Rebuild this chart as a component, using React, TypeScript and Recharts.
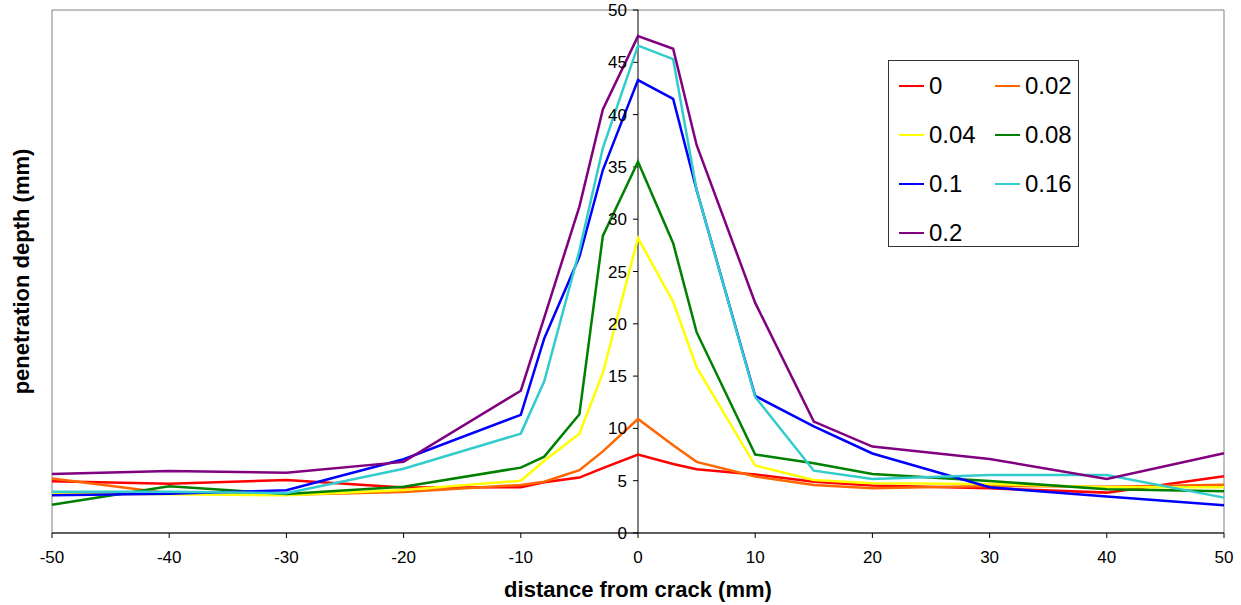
import { LineChart, Line, XAxis, YAxis, Legend, ReferenceLine, ReferenceArea } from 'recharts';

// distance from crack (mm)
const distances = [-50, -40, -30, -20, -10, -8, -5, -3, 0, 3, 5, 10, 15, 20, 30, 40, 50];

// penetration depth (mm) per crack width
const depth0 = [4.95, 4.72, 5.07, 4.34, 4.37, 4.85, 5.3, 6.2, 7.5, 6.6, 6.1, 5.6, 4.9, 4.53, 4.27, 3.86, 5.42];
const depth002 = [5.2, 3.8, 3.65, 3.92, 4.6, 4.9, 6.0, 7.8, 10.9, 8.4, 6.8, 5.4, 4.6, 4.28, 4.5, 4.43, 4.62];
const depth004 = [3.8, 3.7, 3.6, 4.1, 5.0, 6.9, 9.5, 15.3, 28.2, 22.1, 15.85, 6.45, 5.07, 4.75, 4.69, 4.37, 4.37];
const depth008 = [2.7, 4.47, 3.73, 4.43, 6.25, 7.3, 11.35, 28.4, 35.5, 27.7, 19.2, 7.5, 6.67, 5.65, 4.97, 4.18, 3.99];
const depth01 = [3.6, 3.76, 4.08, 7.05, 11.3, 18.6, 26.4, 34.7, 43.3, 41.5, 32.8, 13.1, 10.2, 7.6, 4.37, 3.48, 2.65];
const depth016 = [3.95, 3.95, 3.8, 6.15, 9.5, 14.5, 27.0, 36.8, 46.6, 45.3, 32.8, 13.0, 5.96, 5.17, 5.55, 5.55, 3.38];
const depth02 = [5.65, 5.93, 5.77, 6.8, 13.6, 20.6, 31.2, 40.5, 47.5, 46.3, 37.1, 22.0, 10.65, 8.26, 7.08, 5.17, 7.63];

const seriesNames = ['0', '0.02', '0.04', '0.08', '0.1', '0.16', '0.2'];
const seriesValues = [depth0, depth002, depth004, depth008, depth01, depth016, depth02];
const seriesColors = ['#FF0000', '#FF6600', '#FFFF00', '#008000', '#0000FF', '#33CCCC', '#800080'];

const xTicks = [-50, -40, -30, -20, -10, 0, 10, 20, 30, 40, 50];
const yTicks = [0, 5, 10, 15, 20, 25, 30, 35, 40, 45, 50];

const data = distances.map((x, i) => {
    const row: Record<string, number> = { x };
    seriesNames.forEach((name, s) => {
        row[name] = seriesValues[s][i];
    });
    return row;
});

const FONT = "Arial, 'Liberation Sans', sans-serif";

function LegendBox({ payload }: { payload?: any[] }) {
    const items = payload || [];
    return (
        <div style={{ position: 'relative', width: '100%', height: '100%', fontFamily: FONT, fontSize: 24, color: '#000' }}>
            {items.map((item, i) => {
                const col = i % 2;
                const row = Math.floor(i / 2);
                return (
                    <div
                        key={item.value}
                        style={{
                            position: 'absolute',
                            left: col === 0 ? 10 : 106,
                            top: 25 + row * 49 - 14,
                            height: 28,
                            display: 'flex',
                            alignItems: 'center',
                        }}
                    >
                        <span style={{ display: 'inline-block', width: 25, height: 2, background: item.color, marginRight: 5 }} />
                        <span>{item.value}</span>
                    </div>
                );
            })}
        </div>
    );
}

export default function App() {
    return (
        <div style={{ position: 'absolute', left: 0, top: 0, width: 1241, height: 605, background: '#fff' }}>
            <LineChart
                width={1241}
                height={605}
                data={data}
                margin={{ top: 10, right: 17, bottom: 0, left: 0 }}
                style={{ fontFamily: FONT }}
            >
                <ReferenceArea x1={-50} x2={50} y1={0} y2={50} fill="none" stroke="#808080" strokeWidth={1} />
                <XAxis
                    dataKey="x"
                    type="number"
                    domain={[-50, 50]}
                    ticks={xTicks}
                    height={72}
                    tickSize={5}
                    tickMargin={13}
                    stroke="#000"
                    tick={{ fill: '#000', fontSize: 17 }}
                    label={{ value: 'distance from crack (mm)', position: 'insideBottom', offset: 8, fill: '#000', fontSize: 22, fontWeight: 'bold' }}
                />
                <YAxis
                    type="number"
                    domain={[0, 50]}
                    ticks={yTicks}
                    width={52}
                    tick={false}
                    tickLine={false}
                    axisLine={false}
                    label={{ value: 'penetration depth (mm)', angle: -90, position: 'insideLeft', offset: 21, fill: '#000', fontSize: 22, fontWeight: 'bold', style: { textAnchor: 'middle' } }}
                />
                <ReferenceLine x={0} stroke="#000" strokeWidth={1} />
                {yTicks.map((v) => (
                    <ReferenceLine
                        key={v}
                        segment={[{ x: -0.43, y: v }, { x: 0, y: v }]}
                        stroke="#000"
                        label={{ value: String(v), position: 'left', offset: 6, fill: '#000', fontSize: 17 }}
                    />
                ))}
                {seriesNames.map((name, s) => (
                    <Line
                        key={name}
                        type="linear"
                        dataKey={name}
                        name={name}
                        stroke={seriesColors[s]}
                        strokeWidth={2.5}
                        dot={false}
                        activeDot={false}
                        isAnimationActive={false}
                    />
                ))}
                <Legend
                    layout="vertical"
                    align="center"
                    verticalAlign="middle"
                    content={(props: any) => <LegendBox payload={props.payload} />}
                    wrapperStyle={{
                        left: 888,
                        top: 60,
                        width: 191,
                        height: 187,
                        border: '1px solid #333',
                        background: '#fff',
                        boxSizing: 'border-box',
                    }}
                />
            </LineChart>
        </div>
    );
}
